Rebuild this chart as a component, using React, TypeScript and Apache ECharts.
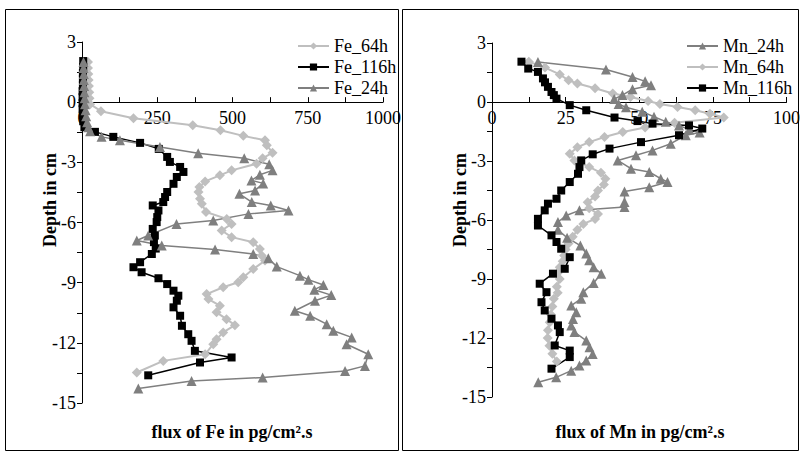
import React, { useEffect, useRef } from "react";
import * as echarts from "echarts";

// ---- Fe panel data (flux in pg/cm².s, depth in cm) ----
const fe64Depth = [2.0, 1.7, 1.4, 1.1, 0.8, 0.5, 0.2, -0.1, -0.45, -0.8, -1.15, -1.4, -1.68, -1.9, -2.15, -2.52, -2.8, -3.07, -3.4, -3.65, -3.95, -4.23, -4.48, -4.82, -5.07, -5.48, -5.82, -6.07, -6.4, -6.73, -6.98, -7.32, -7.65, -7.9, -8.32, -8.73, -8.98, -9.23, -9.57, -9.82, -10.15, -10.48, -10.82, -11.12, -11.48, -11.82, -12.07, -12.57, -12.9, -13.48];
const fe64Flux = [20, 20, 21, 22, 23, 24, 25, 27, 63, 171, 368, 460, 536, 608, 614, 633, 600, 580, 497, 458, 409, 390, 387, 392, 398, 412, 481, 497, 464, 497, 569, 591, 597, 608, 569, 536, 519, 469, 414, 420, 458, 447, 480, 508, 469, 447, 436, 409, 270, 182];

const fe116Depth = [2.05, 1.75, 1.45, 1.15, 0.85, 0.55, 0.25, -0.05, -0.35, -0.65, -0.95, -1.25, -1.48, -1.73, -2.03, -2.33, -2.73, -2.98, -3.23, -3.48, -3.73, -4.07, -4.48, -4.73, -4.98, -5.15, -5.4, -5.73, -5.98, -6.32, -6.65, -6.98, -7.3, -7.57, -7.98, -8.23, -8.48, -8.78, -9.07, -9.4, -9.65, -9.9, -10.23, -10.65, -11.15, -11.57, -11.9, -12.4, -12.73, -12.98, -13.62];
const fe116Flux = [4, 4, 3, 3, 3, 2, 2, 2, 2, 3, 4, 8, 43, 104, 193, 255, 283, 292, 326, 337, 315, 304, 283, 276, 270, 235, 254, 250, 248, 235, 242, 239, 245, 232, 193, 171, 198, 254, 283, 304, 320, 315, 304, 326, 332, 353, 364, 375, 497, 392, 220];

const fe24Depth = [2.0, 1.7, 1.4, 1.1, 0.8, 0.5, 0.2, -0.1, -0.4, -0.7, -1.0, -1.25, -1.45, -1.73, -1.9, -2.23, -2.55, -2.8, -3.1, -3.4, -3.62, -3.9, -4.05, -4.4, -4.57, -4.98, -5.15, -5.4, -5.57, -5.9, -6.07, -6.65, -6.9, -7.15, -7.35, -7.57, -7.78, -8.2, -8.65, -8.85, -9.12, -9.35, -9.62, -9.9, -10.4, -10.65, -11.07, -11.4, -11.73, -12.07, -12.57, -13.15, -13.4, -13.73, -13.9, -14.28];
const fe24Flux = [5, 5, 6, 6, 7, 8, 9, 10, 12, 14, 17, 21, 27, 65, 126, 259, 386, 539, 622, 633, 591, 563, 602, 575, 523, 564, 627, 686, 553, 436, 314, 220, 182, 265, 442, 569, 619, 647, 724, 752, 802, 772, 828, 774, 707, 758, 813, 835, 896, 879, 951, 940, 874, 600, 364, 187];

// ---- Mn panel data ----
const mn24Depth = [2.04, 1.65, 1.27, 1.05, 0.85, 0.65, 0.35, 0.15, -0.1, -0.27, -0.49, -0.75, -1.0, -1.2, -1.4, -1.55, -1.69, -2.12, -2.46, -2.71, -2.97, -3.39, -3.56, -3.9, -4.07, -4.33, -4.55, -5.09, -5.34, -5.51, -5.77, -6.1, -6.5, -6.9, -7.3, -7.7, -8.05, -8.4, -8.73, -9.2, -9.67, -10.0, -10.35, -10.69, -11.03, -11.37, -11.7, -12.13, -12.47, -12.81, -13.14, -13.4, -13.66, -14.0, -14.25];
const mn24Flux = [15.6, 38.7, 47.7, 52, 54, 47.7, 44.3, 41.5, 43, 45.5, 51, 55, 59, 63.5, 67, 70.5, 65.8, 60.7, 54.5, 48.9, 42.7, 47.2, 53.4, 57.3, 59.6, 53.4, 45, 45, 45, 29.7, 25.2, 22.4, 22.4, 25.5, 30, 32, 33, 34.5, 37.1, 34.5, 31, 30.3, 26.9, 28.6, 27.5, 26.9, 28, 32, 33.1, 34.2, 32, 29.7, 26.9, 21.8, 15.7];

const mn64Depth = [2.05, 1.75, 1.4, 1.1, 0.94, 0.7, 0.43, 0.25, 0.05, -0.1, -0.25, -0.42, -0.6, -0.79, -1.05, -1.3, -1.53, -1.78, -2.04, -2.3, -2.63, -2.97, -3.3, -3.6, -3.9, -4.2, -4.5, -4.8, -5.1, -5.4, -5.7, -5.95, -6.2, -6.5, -6.85, -7.2, -7.5, -7.8, -8.1, -8.4, -8.7, -9.0, -9.4, -9.7, -10.0, -10.4, -10.8, -11.2, -11.6, -12.0, -12.4, -12.8, -13.2];
const mn64Flux = [12.5, 18, 23, 26, 29, 35, 41, 47, 53, 57, 63, 69, 74, 78.7, 62, 52, 44.4, 38.2, 33, 29, 26.4, 28, 33, 37, 38.5, 38, 36, 35, 32.5, 33, 36, 35, 31, 29, 27.4, 26, 25, 24.5, 24, 23, 22.3, 23, 22, 22.3, 21, 20.5, 20, 19.6, 19, 18.9, 19.5, 20.5, 22];

const mn116Depth = [2.05, 1.7, 1.53, 1.2, 1.0, 0.77, 0.51, 0.35, 0.17, -0.16, -0.42, -0.79, -0.97, -1.1, -1.19, -1.35, -1.69, -2.04, -2.37, -2.66, -2.97, -3.31, -3.65, -4.07, -4.5, -4.92, -5.17, -5.51, -5.94, -6.28, -6.78, -7.12, -7.46, -7.89, -8.48, -8.73, -9.24, -9.67, -10.18, -10.6, -11.02, -11.36, -11.7, -12.38, -12.64, -12.97, -13.56];
const mn116Flux = [10, 12.3, 15.6, 17.3, 18, 19, 20.2, 21, 21.9, 26.4, 32, 41.6, 49.4, 54.5, 66.9, 71.4, 63.5, 50.6, 39.9, 34.2, 30.3, 29.7, 29.2, 26.4, 23.5, 21.9, 19, 17.9, 15.6, 15.6, 20.2, 21.9, 23.5, 26.4, 24.7, 20.7, 16.2, 18.5, 16.8, 17.9, 20.2, 22.4, 23, 21.3, 26.4, 26.4, 20.2];

const feLegend = ["Fe_64h", "Fe_116h", "Fe_24h"];
const mnLegend = ["Mn_24h", "Mn_64h", "Mn_116h"];

const DEPTH_MIN = -15;
const DEPTH_MAX = 3;

const FONT = "'Liberation Serif', 'DejaVu Serif', serif";
const LIGHT = "#BFBFBF";
const GRAY = "#7F7F7F";
const BLACK = "#000000";

const GRIDS = [
  { left: 82, top: 42, width: 301, height: 361 },
  { left: 492, top: 43, width: 296, height: 354 },
];

function pairs(x: number[], y: number[]) {
  return x.map((v, i) => [v, y[i]]);
}

function mkSeries(name: string, x: number[], y: number[], idx: number, color: string, symbol: string, size: number, width: number) {
  return {
    name,
    type: "line",
    xAxisIndex: idx,
    yAxisIndex: idx,
    data: pairs(x, y),
    symbol,
    symbolSize: size,
    showSymbol: true,
    clip: false,
    lineStyle: { color, width },
    itemStyle: { color, borderWidth: 0 },
    emphasis: { disabled: true },
  };
}

function xAxisCfg(idx: number, max: number, interval: number, labelStep: number) {
  // place the axis line at depth 0 (the crossing point), measured up from the grid bottom
  const h = GRIDS[idx].height;
  const zeroFromBottom = (h * (0 - DEPTH_MIN)) / (DEPTH_MAX - DEPTH_MIN);
  return {
    type: "value",
    gridIndex: idx,
    position: "bottom",
    offset: -zeroFromBottom,
    min: 0,
    max,
    interval,
    axisLine: { show: true, onZero: false, lineStyle: { color: BLACK, width: 1 } },
    axisTick: { show: true, inside: true, length: 5, lineStyle: { color: BLACK } },
    axisLabel: {
      color: BLACK,
      fontSize: 18,
      fontFamily: FONT,
      margin: 7,
      formatter: (v: number) => (Math.abs(v % labelStep) < 1e-9 ? String(v) : ""),
    },
    splitLine: { show: false },
  };
}

function yAxisCfg(idx: number) {
  return {
    type: "value",
    gridIndex: idx,
    min: DEPTH_MIN,
    max: DEPTH_MAX,
    interval: 1.5,
    axisLine: { show: true, onZero: false, lineStyle: { color: BLACK, width: 1 } },
    axisTick: { show: true, inside: false, length: 5, lineStyle: { color: BLACK } },
    axisLabel: {
      color: BLACK,
      fontSize: 18,
      fontFamily: FONT,
      margin: 6,
      formatter: (v: number) => (Math.abs(v % 3) < 1e-9 ? String(v) : ""),
    },
    splitLine: { show: false },
  };
}

function legendCfg(names: string[], left: number) {
  return {
    data: names,
    orient: "vertical",
    left,
    top: 37,
    itemWidth: 31,
    itemHeight: 9,
    itemGap: 3,
    padding: 0,
    selectedMode: false,
    textStyle: { color: BLACK, fontSize: 18, fontFamily: FONT, lineHeight: 18 },
  };
}

export default function App() {
  const ref = useRef<HTMLDivElement>(null);
  useEffect(() => {
    const chart = echarts.init(ref.current!, null, { renderer: "svg" });
    const titleStyle = { fill: BLACK, fontSize: 18, fontWeight: "bold", fontFamily: FONT, align: "center", verticalAlign: "middle" };
    const option: any = {
      animation: false,
      backgroundColor: "#ffffff",
      grid: GRIDS.map((g) => ({ ...g, containLabel: false })),
      xAxis: [xAxisCfg(0, 1000, 125, 250), xAxisCfg(1, 100, 12.5, 25)],
      yAxis: [yAxisCfg(0), yAxisCfg(1)],
      legend: [legendCfg(feLegend, 297), legendCfg(mnLegend, 686)],
      series: [
        mkSeries("Fe_64h", fe64Flux, fe64Depth, 0, LIGHT, "diamond", 10, 2),
        mkSeries("Fe_116h", fe116Flux, fe116Depth, 0, BLACK, "rect", 8, 1.5),
        mkSeries("Fe_24h", fe24Flux, fe24Depth, 0, GRAY, "triangle", 10, 1.5),
        mkSeries("Mn_64h", mn64Flux, mn64Depth, 1, LIGHT, "diamond", 10, 2),
        mkSeries("Mn_24h", mn24Flux, mn24Depth, 1, GRAY, "triangle", 10, 1.5),
        mkSeries("Mn_116h", mn116Flux, mn116Depth, 1, BLACK, "rect", 8, 1.5),
      ],
      graphic: [
        { type: "rect", shape: { x: 5.5, y: 9.5, width: 393, height: 441 }, style: { fill: "none", stroke: BLACK, lineWidth: 1 }, silent: true },
        { type: "rect", shape: { x: 402.5, y: 9.5, width: 396, height: 441 }, style: { fill: "none", stroke: BLACK, lineWidth: 1 }, silent: true },
        { type: "text", x: 50, y: 200, rotation: Math.PI / 2, style: { ...titleStyle, text: "Depth in cm" }, silent: true },
        { type: "text", x: 460, y: 200, rotation: Math.PI / 2, style: { ...titleStyle, text: "Depth in cm" }, silent: true },
        { type: "text", x: 232, y: 432, style: { ...titleStyle, text: "flux of Fe in pg/cm².s" }, silent: true },
        { type: "text", x: 640, y: 432, style: { ...titleStyle, text: "flux of Mn in pg/cm².s" }, silent: true },
      ],
    };
    chart.setOption(option);
    return () => chart.dispose();
  }, []);
  return (
    <div
      ref={ref}
      style={{ position: "fixed", left: 0, top: 0, width: 803, height: 456, background: "#fff" }}
    />
  );
}
